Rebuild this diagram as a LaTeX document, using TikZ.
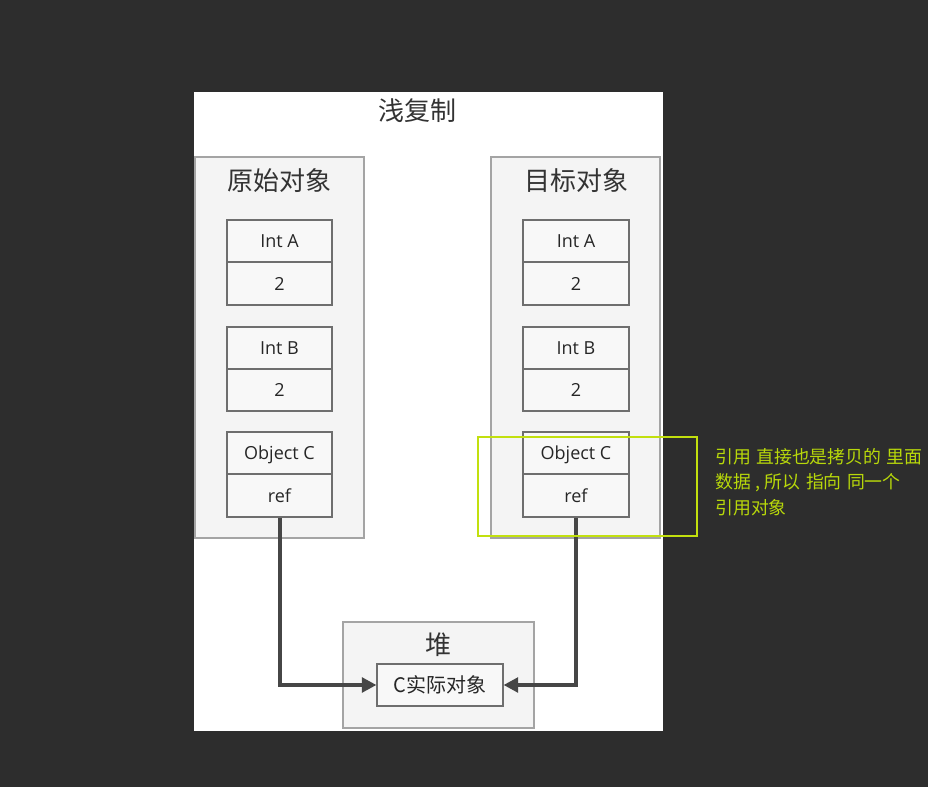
\documentclass[tikz,border=0pt]{standalone}
\usepackage{fontspec}
\setmainfont{Noto Sans CJK SC}
\newfontfamily\latinfont{Open Sans}
\usetikzlibrary{fit,arrows.meta}
\definecolor{bgdark}{HTML}{2D2D2D}
\definecolor{edgegray}{HTML}{6E6E6E}
\definecolor{paneledge}{HTML}{A4A4A4}
\definecolor{panelfill}{HTML}{F4F4F4}
\definecolor{cellfill}{HTML}{F8F8F8}
\definecolor{linkgray}{HTML}{464646}
\definecolor{noteline}{HTML}{C2E00E}
\definecolor{notetext}{HTML}{B8D80A}
\tikzset{
  panel/.style={draw=paneledge, fill=panelfill, line width=0.8pt, inner sep=0pt},
  cell/.style={draw=edgegray, fill=cellfill, line width=0.8pt, inner sep=0pt,
    font=\latinfont\fontsize{13.5}{15}\selectfont, text=black!85},
  heading/.style={font=\fontsize{19.5}{22}\selectfont, text=black!80},
  link/.style={draw=linkgray, line width=3pt, -{Triangle[length=11pt,width=11pt]}},
  notebox/.style={draw=noteline, line width=1.2pt, inner sep=0pt},
  notetxt/.style={text=notetext, font=\fontsize{13.4}{19}\selectfont, align=left, anchor=north west, inner sep=0pt}
}
\begin{document}
\begin{tikzpicture}[x=0.75pt,y=-0.75pt]
  % canvas
  \fill[bgdark] (0,0) rectangle (928,787);
  \useasboundingbox (0,0) rectangle (928,787);
  \node[fill=white, inner sep=0pt, fit={(194,92)(663,731)}] (sheet) {};
  \node[heading] (title) at (417,111) {浅复制};

  % source object
  \node[panel, fit={(195,157)(364,538)}] (src) {};
  \node[heading] (srclabel) at (279,181) {原始对象};
  \node[cell, fit={(227,220)(332,262)}] (sA) {};
  \node at (sA.center) [cell, draw=none, fill=none] {Int A};
  \node[cell, fit={(227,262)(332,305)}] (sAv) {};
  \node at (sAv.center) [cell, draw=none, fill=none] {2};
  \node[cell, fit={(227,327)(332,369)}] (sB) {};
  \node at (sB.center) [cell, draw=none, fill=none] {Int B};
  \node[cell, fit={(227,369)(332,411)}] (sBv) {};
  \node at (sBv.center) [cell, draw=none, fill=none] {2};
  \node[cell, fit={(227,432)(332,474)}] (sC) {};
  \node at ([yshift=-1.5pt]sC.center) [cell, draw=none, fill=none] {Object C};
  \node[cell, fit={(227,474)(332,517)}] (sref) {};
  \node at (sref.center) [cell, draw=none, fill=none] {ref};

  % target object
  \node[panel, fit={(491,157)(660,538)}] (dst) {};
  \node[heading] (dstlabel) at (576,181) {目标对象};
  \node[cell, fit={(523,220)(629,262)}] (dA) {};
  \node at (dA.center) [cell, draw=none, fill=none] {Int A};
  \node[cell, fit={(523,262)(629,305)}] (dAv) {};
  \node at (dAv.center) [cell, draw=none, fill=none] {2};
  \node[cell, fit={(523,327)(629,369)}] (dB) {};
  \node at (dB.center) [cell, draw=none, fill=none] {Int B};
  \node[cell, fit={(523,369)(629,411)}] (dBv) {};
  \node at (dBv.center) [cell, draw=none, fill=none] {2};
  \node[cell, fit={(523,432)(629,474)}] (dC) {};
  \node at ([yshift=-1.5pt]dC.center) [cell, draw=none, fill=none] {Object C};
  \node[cell, fit={(523,474)(629,517)}] (dref) {};
  \node at (dref.center) [cell, draw=none, fill=none] {ref};

  % heap
  \node[panel, fit={(343,622)(534,728)}] (heap) {};
  \node[heading] (heaplabel) at (438,645) {堆};
  \node[cell, fit={(377,664)(503,706)}] (obj) {};
  \node at (obj.center) [cell, draw=none, fill=none, font=\fontsize{15}{17}\selectfont] {C实际对象};

  % references into the heap
  \draw[link] (sref.south) |- (obj.west);
  \draw[link] (dref.south) |- (obj.east);

  % annotation
  \node[notebox, fit={(478,437)(697,536)}] (note) {};
  \node[notetxt] (notetext) at (715,448) {引用\hspace{0.3em}直接也是拷贝的\hspace{0.3em}里面\\数据\hspace{0.25em},\hspace{0.25em}所以\hspace{0.3em}指向\hspace{0.3em}同一个\\引用对象};
\end{tikzpicture}
\end{document}
